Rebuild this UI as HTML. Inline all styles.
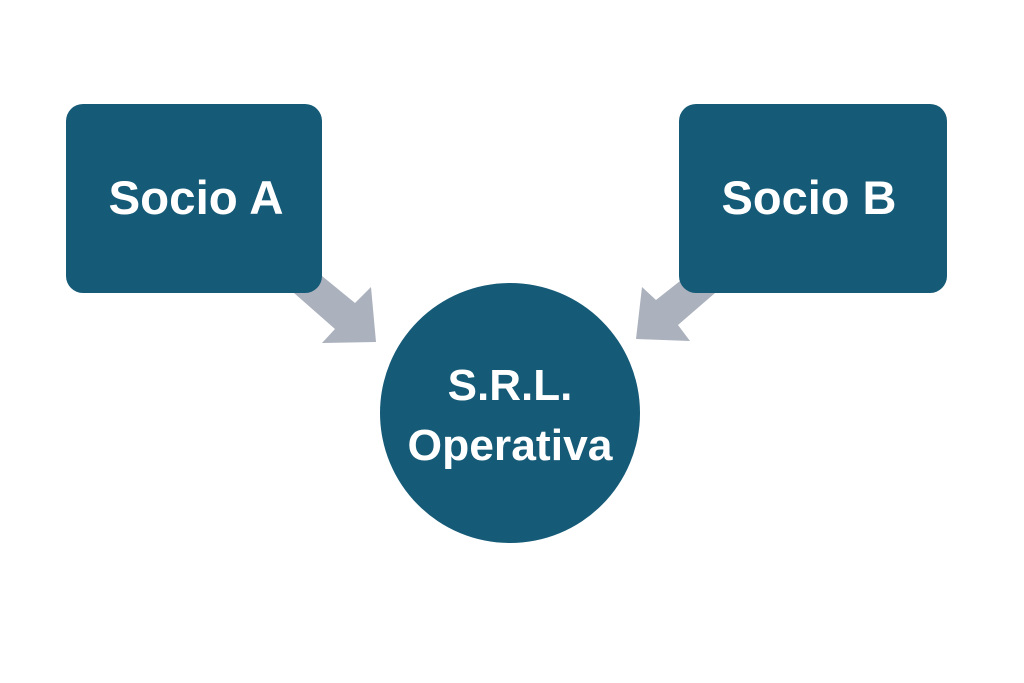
<!DOCTYPE html>
<html><head><meta charset="utf-8"><style>
html,body{margin:0;padding:0;background:#fff;width:1024px;height:683px;overflow:hidden}
svg{display:block}
text{font-family:"Liberation Sans",sans-serif;font-weight:bold;fill:#fff}
</style></head><body>
<svg width="1024" height="683" viewBox="0 0 1024 683">
<polygon fill="#abb1bd" points="300,262 322,276 355,303 371,287 376,342 322,343 335,329 294,293 290,270"/>
<polygon fill="#abb1bd" points="700,262 680,281 656,300 642,287 636,339 690,341 678,325 715,293 720,270"/>
<rect x="66" y="104" width="256" height="189" rx="17" fill="#155a77"/>
<rect x="679" y="104" width="268" height="189" rx="17" fill="#155a77"/>
<circle cx="510" cy="413" r="130" fill="#155a77"/>
<text x="196" y="214" font-size="47" text-anchor="middle" textLength="175" lengthAdjust="spacingAndGlyphs">Socio A</text>
<text x="809" y="214" font-size="47" text-anchor="middle" textLength="175" lengthAdjust="spacingAndGlyphs">Socio B</text>
<text x="510" y="400" font-size="44" text-anchor="middle">S.R.L.</text>
<text x="510" y="460" font-size="44" text-anchor="middle" textLength="205" lengthAdjust="spacingAndGlyphs">Operativa</text>
</svg>
</body></html>
